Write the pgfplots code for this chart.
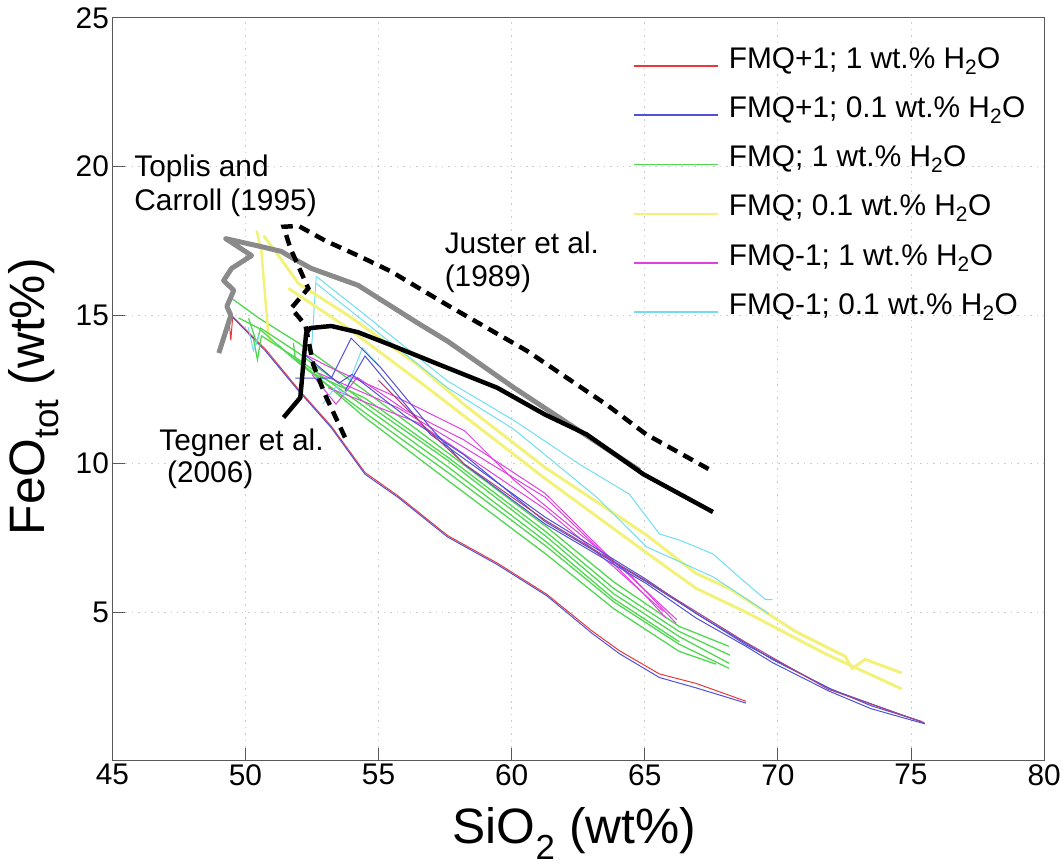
\documentclass[border=0pt]{standalone}
\usepackage{fontspec}
\setmainfont{Liberation Sans}
\usepackage{pgfplots}
\pgfplotsset{compat=1.18}
\definecolor{cR}{HTML}{E8383A}
\definecolor{cB}{HTML}{5050D8}
\definecolor{cG}{HTML}{50D850}
\definecolor{cY}{HTML}{F2F27A}
\definecolor{cM}{HTML}{E040E0}
\definecolor{cC}{HTML}{70DDF0}
\definecolor{cGray}{HTML}{8A8A8A}
\newcommand{\fs}{\fontsize{30}{36}\selectfont}
\newcommand{\fl}{\fontsize{50}{60}\selectfont}
\begin{document}
\begin{tikzpicture}
\begin{axis}[
  scale only axis, width=937pt, height=747pt,
  xmin=45, xmax=80, ymin=0, ymax=25,
  xtick={45,50,...,80}, ytick={5,10,15,20,25},
  /pgf/number format/assume math mode=true,
  tick label style={font=\fs},
  axis line style={draw=gray!70!black, line width=1.2pt},
  major tick length=13pt,
  tick style={draw=gray!70!black, line width=1pt},
  xtick pos=bottom, ytick pos=left,
  grid=major,
  major grid style={gray!40, line width=0.9pt, dash pattern=on 1.5pt off 5pt},
  xlabel={SiO\textsubscript{2} (wt\%)},
  ylabel={FeO\textsubscript{tot} (wt\%)},
  xlabel style={font=\fl, at={(axis description cs:0.496,-0.098)}, anchor=center},
  ylabel style={font=\fl, at={(axis description cs:-0.0843,0.49)}, anchor=center, rotate=0},
  clip=false,
  legend style={draw=none, fill=none, font=\fs, at={(axis description cs:0.555,0.963)}, anchor=north west, row sep=27pt, column sep=10pt, nodes={inner sep=0pt}},
  legend cell align=left,
  legend image code/.code={\draw[#1, line width=1.8pt, line cap=butt] (0pt,-7.5pt) -- (85pt,-7.5pt);},
]
% legend-bearing first series of each group
\addplot[cR, line width=1pt] coordinates {(49.35,15.15) (49.45,14.15) (49.52,14.95) (50.75,13.85) (51.99,12.5) (53.22,11.26) (54.49,9.7) (55.72,8.92) (57.59,7.58) (59.46,6.65) (61.32,5.6) (63,4.38) (64.05,3.7) (65.55,2.92) (66.93,2.6) (68.80,2.0)};
\addlegendentry{FMQ+1; 1 wt.\% H\textsubscript{2}O}
\addplot[cB, line width=1pt] coordinates {(49.48,14.96) (50.75,13.79) (51.99,12.45) (53.22,11.21) (54.49,9.64) (55.72,8.87) (57.59,7.53) (59.46,6.6) (61.32,5.55) (63,4.3) (64.05,3.6) (65.55,2.8) (66.93,2.45) (68.80,1.94)};
\addlegendentry{FMQ+1; 0.1 wt.\% H\textsubscript{2}O}
\addplot[cG, line width=1.3pt] coordinates {(49.48,15.56) (50.5,14.9) (51.99,14.06) (54.49,12.45) (57.59,10.37) (61.32,7.86) (63.83,6.02) (66.29,4.52) (68.16,3.85)};
\addlegendentry{FMQ; 1 wt.\% H\textsubscript{2}O}
\addplot[cY, line width=2.5pt] coordinates {(50.42,17.84) (50.60,17.14) (50.86,14.32) (50.98,14.06)};
\addlegendentry{FMQ; 0.1 wt.\% H\textsubscript{2}O}
\addplot[cM, line width=1pt] coordinates {(52.28,13.65) (53.22,13.22) (55.72,12.22) (58.22,11.11) (60.09,9.44) (62.56,7.63) (64.42,6.29) (66.18,4.62)};
\addlegendentry{FMQ-1; 1 wt.\% H\textsubscript{2}O}
\addplot[cC, line width=1pt] coordinates {(52.66,16.30) (52.47,13.72)};
\addlegendentry{FMQ-1; 0.1 wt.\% H\textsubscript{2}O}

% yellow FMQ 0.1
\addplot[cY, line width=3pt, forget plot] coordinates {(50.68,17.67) (51.24,17.0) (51.99,16.06) (53.85,14.99) (56.47,13.32) (58.22,11.98) (61.25,9.87) (65.06,7.6) (66.93,6.3) (68.16,5.8) (70.66,4.35) (72.53,3.51) (72.79,3.1) (73.28,3.41) (74.66,2.95)};
\addplot[cY, line width=3pt, forget plot] coordinates {(51.61,15.90) (53.85,14.56) (56.84,12.55) (61.25,9.5) (65.06,7.0) (66.93,5.8) (68.8,5.0) (71.78,3.6) (74.66,2.41)};

% green FMQ 1
\addplot[cG, line width=1.3pt, forget plot] coordinates {(50.12,14.89) (50.42,14.06) (50.57,14.56) (51.99,13.72) (54.49,12.05) (57.59,10.11) (61.32,7.53) (63.83,5.62) (66.29,4.18) (68.16,3.28)};
\addplot[cG, line width=1.3pt, forget plot] coordinates {(49.74,14.9) (50.49,14.56) (51.99,13.39) (54.49,11.71) (57.59,9.71) (61.32,7.20) (63.83,5.35) (66.29,3.92) (68.16,3.11)};
\addplot[cG, line width=1.3pt, forget plot] coordinates {(51.80,14.06) (51.87,13.55) (54.49,11.55) (57.59,9.44) (61.32,6.93) (63.83,5.12) (66.29,3.68) (67.67,3.25)};
\addplot[cG, line width=1.3pt, forget plot] coordinates {(50.3,14.2) (50.45,13.5) (50.6,14.3) (52,13.5) (54.49,11.9) (57.59,9.9) (61.32,7.35) (63.83,5.45) (66.3,4.0)};
\addplot[cG, line width=1.3pt, forget plot] coordinates {(51.2,14.0) (52.4,13.1) (54.49,12.2) (57.59,10.22) (61.32,7.68) (63.83,5.8) (66.29,4.35) (68.2,3.55)};

% magenta FMQ-1 1
\addplot[cM, line width=1pt, forget plot] coordinates {(52.73,13.05) (55.72,11.88) (58.22,10.54) (61.25,8.87) (63.19,7.20) (65.06,5.52) (65.81,4.79)};
\addplot[cM, line width=1pt, forget plot] coordinates {(53.11,12.55) (56.47,11.38) (61.25,8.47) (63.83,6.53) (65.70,5.02)};
\addplot[cM, line width=1pt, forget plot] coordinates {(52.5,13.0) (53.4,12.0) (54.2,12.9) (56,11.8) (58.2,10.8) (61.25,9.0) (63.5,7.0) (66.2,4.75)};

% cyan FMQ-1 0.1
\addplot[cC, line width=1pt, forget plot] coordinates {(52.66,16.30) (54.23,15.19) (57.59,12.78) (60.09,11.45) (62.56,9.97) (64.42,8.97) (65.55,7.63) (66.29,7.43) (67.56,6.96) (68.53,6.19) (69.54,5.42) (69.80,5.42)};
\addplot[cC, line width=1pt, forget plot] coordinates {(52.66,16.06) (57.59,12.55) (60.09,11.15) (63.19,8.87) (65.06,7.20) (67.56,6.19) (69.65,4.95)};
\addplot[cC, line width=1pt, forget plot] coordinates {(52.9,12.0) (53.4,12.6) (53.7,12.3) (54.4,13.9) (55.0,13.3)};
\addplot[cC, line width=1pt, forget plot] coordinates {(50.1,14.6) (50.3,13.8) (50.5,14.3)};

% blue FMQ+1 0.1
\addplot[cB, line width=1pt, forget plot] coordinates {(51.87,12.88) (53.22,12.88) (53.97,14.22) (55.09,13.22) (56.95,11.21) (58.22,9.97) (61.25,7.97) (65.06,5.96) (66.93,4.8) (68.8,3.85) (69.8,3.3) (71.9,2.35) (73.5,1.75) (75.52,1.24)};
\addplot[cB, line width=1pt, forget plot] coordinates {(53.74,12.45) (54.49,13.62) (56.95,10.98) (61.25,8.20) (65.06,6.1) (66.93,4.95) (68.8,3.95) (69.8,3.4) (71.9,2.45) (73.5,1.85) (75.4,1.32)};
\addplot[cB, line width=1pt, forget plot] coordinates {(52.25,13.65) (53.5,12.7) (54.0,13.0) (56,11.6) (58.2,10.3) (61.25,8.05) (65.06,6.02) (68.8,3.9) (72,2.4) (75.5,1.27)};

% red FMQ+1 1
\addplot[cR!60!cB, line width=1pt, forget plot] coordinates {(55,12.8) (57,11.0) (58.2,10.0) (61.25,8.1) (65.06,6.05) (68.8,3.98) (71.9,2.4) (75.5,1.28)};

% Toplis and Carroll (1995)
\addplot[cGray, line width=5pt, line join=round, forget plot] coordinates {(49.0,13.72) (49.45,14.99) (49.3,15.29) (49.56,15.83) (49.18,16.16) (49.48,16.57) (50.23,17.0) (49.26,17.57) (50.6,17.3) (51.35,17.14) (51.8,16.9) (52.47,16.57) (54.23,16.0) (56.47,14.73) (57.59,14.12) (60.09,12.55) (64.8,9.77)};
% Tegner et al. (2006)
\addplot[black, line width=4.5pt, line join=round, forget plot] coordinates {(51.43,11.55) (52.06,12.22) (52.17,13.32) (52.28,14.39) (52.43,14.56) (53.22,14.63) (54.23,14.42) (55.46,13.99) (56.95,13.45) (59.46,12.55) (61.25,11.65) (62.82,10.98) (64.95,9.64) (67.56,8.37)};
% Juster et al. (1989)
\addplot[black, line width=4.5pt, dash pattern=on 11pt off 7pt, forget plot] coordinates {(53.74,10.88) (52.99,12.32) (52.55,13.32) (52.25,14.66) (51.72,15.23) (52.36,15.9) (51.69,17.24) (51.43,17.97) (51.99,18.0) (53.0,17.5) (54.23,17.0) (55.46,16.47) (57.59,15.33) (60.58,13.79) (63.57,11.98) (65.06,10.98) (67.41,9.81)};

\node[anchor=base west, font=\fs, inner sep=0pt] at (axis cs:45.82,19.65) {Toplis and};
\node[anchor=base west, font=\fs, inner sep=0pt] at (axis cs:45.82,18.51) {Carroll (1995)};
\node[anchor=base west, font=\fs, inner sep=0pt] at (axis cs:57.48,17.07) {Juster et al.};
\node[anchor=base west, font=\fs, inner sep=0pt] at (axis cs:57.48,15.96) {(1989)};
\node[anchor=base west, font=\fs, inner sep=0pt] at (axis cs:46.76,10.44) {Tegner et al.};
\node[anchor=base west, font=\fs, inner sep=0pt] at (axis cs:47.05,9.37) {(2006)};
\end{axis}
\path (current axis.south west) ++(-113pt,-107pt) rectangle ++(1064pt,872pt);
\end{tikzpicture}
\end{document}
